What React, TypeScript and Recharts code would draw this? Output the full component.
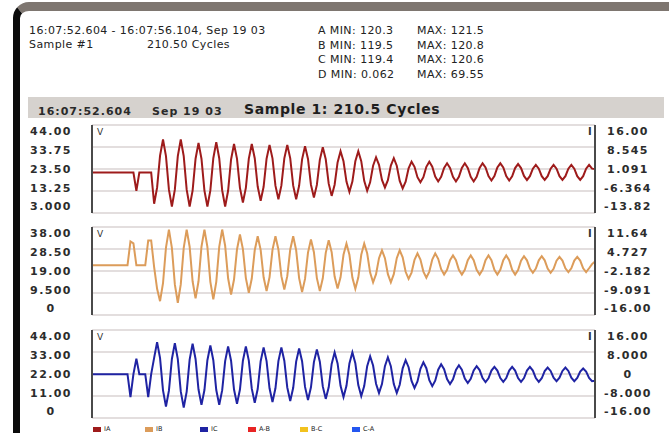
import { LineChart, Line, XAxis, YAxis, CartesianGrid } from 'recharts';

// Trace samples (about 6 samples per displayed cycle)
const VA_SAMPLES = [
  21.6, 21.6, 21.6, 21.6, 21.6, 21.6, 21.6, 21.6, 21.6, 21.6,
  21.6, 21.6, 21.6, 21.6, 21.6, 11.6, 21.6, 21.6, 21.6, 21.6,
  21.6, 4.5, 13.3, 30.8, 39.6, 30.5, 12.2, 3.0, 12.2, 30.5,
  39.6, 30.5, 12.2, 3.0, 11.7, 29.1, 37.8, 29.1, 11.7, 3.0,
  11.8, 29.4, 38.2, 29.4, 11.8, 3.0, 11.6, 28.7, 37.2, 29.2,
  13.2, 5.2, 13.2, 29.2, 37.2, 29.4, 13.9, 6.1, 13.8, 29.1,
  36.7, 29.3, 14.4, 7.0, 14.4, 29.3, 36.7, 29.3, 14.4, 7.0,
  14.3, 28.8, 36.0, 29.0, 14.9, 7.9, 14.8, 28.5, 35.4, 28.8,
  15.5, 8.8, 14.9, 27.1, 33.2, 27.7, 16.6, 11.0, 16.6, 27.7,
  33.2, 27.8, 17.0, 11.6, 16.2, 25.3, 29.9, 25.8, 17.5, 13.4,
  17.4, 25.4, 29.4, 25.3, 17.0, 12.9, 16.6, 23.9, 27.5, 24.7,
  19.0, 16.2, 19.0, 24.7, 27.5, 24.8, 19.4, 16.7, 19.2, 24.1,
  26.6, 24.1, 19.2, 16.7, 19.2, 24.1, 26.6, 24.1, 19.2, 16.7,
  19.2, 24.1, 26.6, 24.3, 19.6, 17.2, 19.6, 24.3, 26.6, 24.3,
  19.6, 17.2, 19.5, 24.0, 26.2, 24.0, 19.7, 17.5, 19.6, 23.7,
  25.8, 23.7, 19.6, 17.5, 19.6, 23.7, 25.8, 23.7, 19.6, 17.5,
  19.6, 23.7, 25.8, 23.7, 19.6, 17.5, 19.6, 23.7, 25.8, 23.7,
  23.5,
];

const VB_SAMPLES = [
  21.9, 21.9, 21.9, 21.9, 21.9, 21.9, 21.9, 21.9, 21.9, 21.9,
  21.9, 21.9, 21.9, 34.0, 33.0, 21.9, 21.9, 21.9, 21.9, 34.5,
  34.5, 21.0, 10.0, 3.7, 12.8, 30.9, 40.0, 30.7, 12.2, 2.9,
  12.2, 30.7, 40.0, 31.3, 13.8, 5.1, 13.8, 31.3, 40.0, 31.2,
  13.5, 4.6, 13.5, 31.2, 40.0, 31.8, 15.3, 7.1, 14.7, 29.9,
  37.5, 30.1, 15.4, 8.0, 15.2, 29.5, 36.6, 29.7, 15.8, 8.8,
  15.8, 29.7, 36.6, 29.9, 16.4, 9.6, 16.4, 29.9, 36.6, 29.5,
  15.4, 8.3, 15.0, 28.3, 35.0, 28.5, 15.4, 8.8, 15.3, 28.2,
  34.6, 28.5, 16.2, 10.1, 15.8, 27.2, 32.9, 27.2, 15.7, 10.0,
  15.7, 27.2, 32.9, 28.0, 18.2, 13.3, 17.4, 25.5, 29.5, 25.5,
  17.4, 13.3, 17.4, 25.5, 29.5, 25.9, 18.6, 15.0, 18.2, 24.7,
  27.9, 24.8, 18.7, 15.6, 18.7, 24.8, 27.9, 25.2, 19.9, 17.2,
  19.6, 24.5, 26.9, 24.5, 19.6, 17.2, 19.6, 24.5, 26.9, 24.5,
  19.6, 17.2, 19.6, 24.5, 26.9, 24.5, 19.6, 17.2, 19.6, 24.5,
  26.9, 24.5, 19.6, 17.2, 19.5, 24.2, 26.5, 24.4, 20.2, 18.1,
  20.2, 24.4, 26.5, 24.4, 20.2, 18.1, 20.1, 24.2, 26.2, 24.3,
  20.4, 18.4, 20.4, 24.3, 26.2, 24.3, 20.4, 18.4, 20.4, 22.5,
  23.8,
];

const VC_SAMPLES = [
  21.9, 21.9, 21.9, 21.9, 21.9, 21.9, 21.9, 21.9, 21.9, 21.9,
  21.9, 21.9, 21.9, 8.4, 21.9, 31.0, 21.9, 21.9, 21.9, 8.4,
  21.9, 31.5, 40.7, 31.3, 12.4, 2.9, 12.2, 30.8, 40.1, 30.7,
  11.8, 2.3, 11.7, 30.4, 39.8, 30.8, 12.9, 3.9, 12.6, 30.1,
  38.8, 30.1, 12.6, 3.9, 12.5, 29.6, 38.2, 29.8, 12.9, 4.5,
  12.9, 29.8, 38.2, 29.9, 13.4, 5.1, 13.2, 29.5, 37.6, 29.6,
  13.6, 5.6, 13.6, 29.6, 37.6, 29.8, 14.1, 6.2, 13.9, 29.3,
  37.0, 29.5, 14.4, 6.8, 14.2, 29.0, 36.4, 29.2, 14.7, 7.4,
  14.2, 27.9, 34.7, 28.2, 15.1, 8.5, 15.1, 28.2, 34.7, 28.3,
  15.5, 9.1, 14.9, 26.6, 32.4, 27.0, 16.3, 10.9, 16.1, 26.6,
  31.8, 26.6, 16.1, 10.9, 15.7, 25.3, 30.1, 26.0, 17.9, 13.8,
  17.6, 25.1, 28.9, 25.4, 18.4, 14.9, 18.1, 24.5, 27.7, 24.8,
  19.0, 16.1, 18.9, 24.4, 27.1, 24.5, 19.3, 16.7, 19.2, 24.1,
  26.6, 24.3, 19.6, 17.3, 19.5, 24.0, 26.2, 24.0, 19.6, 17.4,
  19.6, 24.0, 26.2, 24.0, 19.6, 17.4, 19.6, 24.0, 26.2, 24.0,
  19.6, 17.4, 19.5, 23.7, 25.8, 23.8, 19.8, 17.8, 19.8, 23.8,
  25.8, 23.8, 19.8, 17.8, 19.7, 23.4, 25.2, 23.4, 19.7, 17.8,
  18.0,
];

// axis ticks (ascending) and the text shown for them
const VA_TICKS = [3, 13.25, 23.5, 33.75, 44];
const VA_LABELS = ['3.000', '13.25', '23.50', '33.75', '44.00'];
const IA_TICKS = [-13.82, -6.364, 1.091, 8.545, 16];
const IA_LABELS = ['-13.82', '-6.364', '1.091', '8.545', '16.00'];

const VB_TICKS = [0, 9.5, 19, 28.5, 38];
const VB_LABELS = ['0', '9.500', '19.00', '28.50', '38.00'];
const IB_TICKS = [-16, -9.091, -2.182, 4.727, 11.64];
const IB_LABELS = ['-16.00', '-9.091', '-2.182', '4.727', '11.64'];

const VC_TICKS = [0, 11, 22, 33, 44];
const VC_LABELS = ['0', '11.00', '22.00', '33.00', '44.00'];
const IC_TICKS = [-16, -8, 0, 8, 16];
const IC_LABELS = ['-16.00', '-8.000', '0', '8.000', '16.00'];

// vertical grid positions, in sample index
const X_GRID = [36.1, 72.2, 108.3, 144.4];

const HEADER_RANGE = '16:07:52.604 - 16:07:56.104, Sep 19 03';
const HEADER_SAMPLE = 'Sample #1';
const HEADER_CYCLES = '210.50 Cycles';
const MM_PHASE = ['A', 'B', 'C', 'D'];
const MM_MIN = ['120.3', '119.5', '119.4', '0.062'];
const MM_MAX = ['121.5', '120.8', '120.6', '69.55'];

const BAR_TIME = '16:07:52.604';
const BAR_DATE = 'Sep 19 03';
const BAR_TITLE = 'Sample 1: 210.5 Cycles';

const LEGEND_NAMES = ['IA', 'IB', 'IC', 'A-B', 'B-C', 'C-A'];
const LEGEND_COLORS = ['#9e1b1b', '#dc9c5a', '#1f23a3', '#e82424', '#f2c21e', '#2456f0'];

const W = 669;
const PLOT_H = 88;
const PANEL_TOPS = [125, 227, 330];
const PLOT_LEFT = 92;
const PLOT_RIGHT = 595;
const LABEL_INSET = 6.5;
const LABEL_SPAN = 75;

const tickFont = {
  fontFamily: '"DejaVu Sans", sans-serif',
  fontSize: 11,
  fontWeight: 700,
  letterSpacing: 1.4,
  fill: '#2c2c2c',
};

function padDomain(t: number[]): [number, number] {
  const lo = t[0];
  const hi = t[t.length - 1];
  const pad = ((hi - lo) * LABEL_INSET) / LABEL_SPAN;
  return [lo - pad, hi + pad];
}

function makeTick(ticks: number[], labels: string[], x: number) {
  return (p: any) => {
    const idx = ticks.indexOf(p.payload.value);
    return (
      <text x={x} y={p.y} dy="0.36em" textAnchor="middle" {...tickFont}>
        {labels[idx]}
      </text>
    );
  };
}

interface PanelProps {
  top: number;
  samples: number[];
  color: string;
  lTicks: number[];
  lLabels: string[];
  rTicks: number[];
  rLabels: string[];
}

function Panel({ top, samples, color, lTicks, lLabels, rTicks, rLabels }: PanelProps) {
  const data = samples.map((v, i) => ({ i, v }));
  return (
    <div style={{ position: 'absolute', left: 0, top: top - 2 }}>
      <LineChart width={W} height={PLOT_H + 4} data={data} margin={{ top: 2, right: 0, bottom: 2, left: 0 }}>
        <CartesianGrid
          yAxisId="L"
          stroke="#dad3d3"
          strokeWidth={1.6}
          horizontalCoordinatesGenerator={({ offset }: any) =>
            [0, 1, 2, 3, 4].map((k) => offset.top + (offset.height * k) / 4)
          }
        />
        <XAxis
          dataKey="i"
          type="number"
          domain={[0, samples.length - 1]}
          ticks={X_GRID}
          height={0}
          tick={false}
          axisLine={false}
          tickLine={false}
          allowDataOverflow
        />
        <YAxis
          yAxisId="L"
          type="number"
          width={PLOT_LEFT}
          domain={padDomain(lTicks)}
          ticks={lTicks}
          interval={0}
          allowDataOverflow
          tickLine={false}
          axisLine={{ stroke: '#4a4a4a', strokeWidth: 2 }}
          tick={makeTick(lTicks, lLabels, 51)}
        />
        <YAxis
          yAxisId="R"
          type="number"
          orientation="right"
          width={W - PLOT_RIGHT}
          domain={padDomain(rTicks)}
          ticks={rTicks}
          interval={0}
          allowDataOverflow
          tickLine={false}
          axisLine={{ stroke: '#4a4a4a', strokeWidth: 2 }}
          tick={makeTick(rTicks, rLabels, 628)}
        />
        <Line
          yAxisId="L"
          dataKey="v"
          type="linear"
          stroke={color}
          strokeWidth={2}
          strokeLinejoin="miter"
          dot={false}
          isAnimationActive={false}
        />
      </LineChart>
    </div>
  );
}

export default function App() {
  const txt = { fontFamily: '"DejaVu Sans", sans-serif', fontSize: 11, letterSpacing: 0.4, fill: '#222' };
  const bold = { fontFamily: '"DejaVu Sans", sans-serif', fontSize: 11, fontWeight: 700, letterSpacing: 1, fill: '#2a2a2a' };
  const panels = [
    { samples: VA_SAMPLES, color: LEGEND_COLORS[0], lTicks: VA_TICKS, lLabels: VA_LABELS, rTicks: IA_TICKS, rLabels: IA_LABELS },
    { samples: VB_SAMPLES, color: LEGEND_COLORS[1], lTicks: VB_TICKS, lLabels: VB_LABELS, rTicks: IB_TICKS, rLabels: IB_LABELS },
    { samples: VC_SAMPLES, color: LEGEND_COLORS[2], lTicks: VC_TICKS, lLabels: VC_LABELS, rTicks: IC_TICKS, rLabels: IC_LABELS },
  ];
  const legendX = [93, 145, 200, 248, 300, 352];

  return (
    <div style={{ position: 'absolute', left: 0, top: 0, width: W, height: 433, overflow: 'hidden', background: '#fff' }}>
      {/* window frame */}
      <div
        style={{
          position: 'absolute',
          left: 13,
          top: 2,
          width: 700,
          height: 500,
          borderTop: '9px solid #7e7670',
          borderLeft: '7px solid #0b0b0b',
          borderTopLeftRadius: 16,
          background: '#fff',
        }}
      />
      <svg width={W} height={433} style={{ position: 'absolute', left: 0, top: 0 }}>
        <text x={29} y={34} {...txt}>{HEADER_RANGE}</text>
        <text x={29} y={48} {...txt}>{HEADER_SAMPLE}</text>
        <text x={147} y={48} {...txt}>{HEADER_CYCLES}</text>
        {MM_PHASE.map((ph, k) => (
          <g key={ph}>
            <text x={318} y={34 + k * 14.5} {...txt}>{`${ph} MIN: ${MM_MIN[k]}`}</text>
            <text x={417} y={34 + k * 14.5} {...txt}>{`MAX: ${MM_MAX[k]}`}</text>
          </g>
        ))}

        <rect x={28} y={97} width={636} height={21} fill="#d6d2ce" />
        <text x={38} y={115} {...bold}>{BAR_TIME}</text>
        <text x={152} y={115} {...bold}>{BAR_DATE}</text>
        <text x={244} y={114} {...bold} fontSize={14} letterSpacing={0.6} fill="#1e1e1e">{BAR_TITLE}</text>

        {PANEL_TOPS.map((t) => (
          <g key={t}>
            <text x={97} y={t + 10} fontFamily='"DejaVu Sans", sans-serif' fontSize={9} fill="#333">V</text>
            <text x={588} y={t + 10} fontFamily='"DejaVu Sans", sans-serif' fontSize={10} fontWeight={700} fill="#333">I</text>
          </g>
        ))}

        {LEGEND_NAMES.map((n, k) => (
          <g key={n}>
            <rect x={legendX[k]} y={427} width={8} height={5} fill={LEGEND_COLORS[k]} />
            <text x={legendX[k] + 11} y={430.5} fontFamily='"DejaVu Sans", sans-serif' fontSize={6.5} fill="#222">{n}</text>
          </g>
        ))}
      </svg>

      {panels.map((p, k) => (
        <Panel key={k} top={PANEL_TOPS[k]} {...p} />
      ))}
    </div>
  );
}
